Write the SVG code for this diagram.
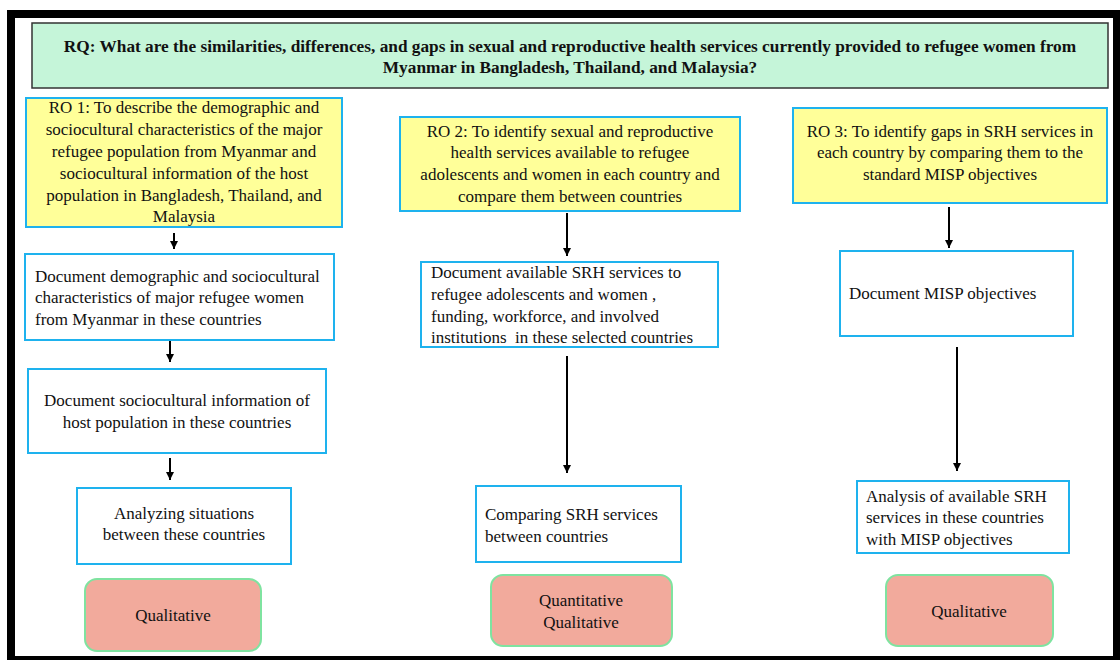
<svg xmlns="http://www.w3.org/2000/svg" width="1120" height="660" viewBox="0 0 1120 660">
  <defs>
    <marker id="arrowhead" viewBox="0 0 10 10" refX="10" refY="5" markerWidth="4" markerHeight="4" markerUnits="strokeWidth" orient="auto">
      <path d="M0,0 L10,5 L0,10 Z" fill="#000"/>
    </marker>
    <style>
      text { font-family: "Liberation Serif", "Times New Roman", serif; font-size: 17px; fill: #111; }
      .rq { font-weight: bold; font-size: 17.3px; text-anchor: middle; }
      .mid { text-anchor: middle; }
      .ro { fill: #ffff99; stroke: #1eb2ee; stroke-width: 2; }
      .step { fill: #ffffff; stroke: #1eb2ee; stroke-width: 2; }
      .method { fill: #f2aa9c; stroke: #7fe3a0; stroke-width: 2; }
      .conn line { stroke: #000; stroke-width: 2; marker-end: url(#arrowhead); }
    </style>
  </defs>

  <rect width="1120" height="660" fill="#ffffff"/>

  <!-- outer frame -->
  <path d="M7,10 H1121 V661 H7 Z M15,18 V656 H1113 V18 Z" fill="#000" fill-rule="evenodd"/>

  <!-- research question -->
  <g id="rq">
    <rect x="32" y="23" width="1076" height="65" fill="#c5f5d9" stroke="#333" stroke-width="1.5"/>
    <text class="rq" x="570" y="52">RQ: What are the similarities, differences, and gaps in sexual and reproductive health services currently provided to refugee women from</text>
    <text class="rq" x="570" y="73">Myanmar in Bangladesh, Thailand, and Malaysia?</text>
  </g>

  <!-- column 1 -->
  <g id="ro1">
    <rect class="ro" x="26" y="98" width="316" height="129"/>
    <text class="mid" x="184" y="113">RO 1: To describe the demographic and</text>
    <text class="mid" x="184" y="135">sociocultural characteristics of the major</text>
    <text class="mid" x="184" y="157">refugee population from Myanmar and</text>
    <text class="mid" x="184" y="179">sociocultural information of the host</text>
    <text class="mid" x="184" y="201">population in Bangladesh, Thailand, and</text>
    <text class="mid" x="184" y="222">Malaysia</text>
  </g>
  <g id="step1a">
    <rect class="step" x="25" y="254" width="309" height="86"/>
    <text x="35" y="282">Document demographic and sociocultural</text>
    <text x="35" y="303">characteristics of major refugee women</text>
    <text x="35" y="325">from Myanmar in these countries</text>
  </g>
  <g id="step1b">
    <rect class="step" x="28" y="369" width="298" height="84"/>
    <text class="mid" x="177" y="406">Document sociocultural information of</text>
    <text class="mid" x="177" y="428">host population in these countries</text>
  </g>
  <g id="step1c">
    <rect class="step" x="77" y="488" width="214" height="76"/>
    <text class="mid" x="184" y="519">Analyzing situations</text>
    <text class="mid" x="184" y="540">between these countries</text>
  </g>
  <g id="method1">
    <rect class="method" x="85" y="579" width="176" height="72" rx="12"/>
    <text class="mid" x="173" y="621">Qualitative</text>
  </g>

  <!-- column 2 -->
  <g id="ro2">
    <rect class="ro" x="400" y="117" width="340" height="94"/>
    <text class="mid" x="570" y="137">RO 2: To identify sexual and reproductive</text>
    <text class="mid" x="570" y="158">health services available to refugee</text>
    <text class="mid" x="570" y="180">adolescents and women in each country and</text>
    <text class="mid" x="570" y="202">compare them between countries</text>
  </g>
  <g id="step2a">
    <rect class="step" x="421" y="262" width="297" height="85"/>
    <text x="431" y="278">Document available SRH services to</text>
    <text x="431" y="300">refugee adolescents and women ,</text>
    <text x="431" y="322">funding, workforce, and involved</text>
    <text x="431" y="343" xml:space="preserve">institutions  in these selected countries</text>
  </g>
  <g id="step2b">
    <rect class="step" x="476" y="486" width="205" height="76"/>
    <text x="485" y="520">Comparing SRH services</text>
    <text x="485" y="542">between countries</text>
  </g>
  <g id="method2">
    <rect class="method" x="491" y="575" width="181" height="71" rx="12"/>
    <text class="mid" x="581" y="606">Quantitative</text>
    <text class="mid" x="581" y="628">Qualitative</text>
  </g>

  <!-- column 3 -->
  <g id="ro3">
    <rect class="ro" x="793" y="108" width="314" height="95"/>
    <text class="mid" x="950" y="137">RO 3: To identify gaps in SRH services in</text>
    <text class="mid" x="950" y="158">each country by comparing them to the</text>
    <text class="mid" x="950" y="180">standard MISP objectives</text>
  </g>
  <g id="step3a">
    <rect class="step" x="840" y="251" width="233" height="85"/>
    <text x="849" y="299">Document MISP objectives</text>
  </g>
  <g id="step3b">
    <rect class="step" x="857" y="481" width="212" height="72"/>
    <text x="866" y="502">Analysis of available SRH</text>
    <text x="866" y="523">services in these countries</text>
    <text x="866" y="545">with MISP objectives</text>
  </g>
  <g id="method3">
    <rect class="method" x="886" y="575" width="167" height="71" rx="12"/>
    <text class="mid" x="969" y="617">Qualitative</text>
  </g>

  <!-- connectors -->
  <g id="connectors" class="conn">
    <line x1="174" y1="233" x2="174" y2="249"/>
    <line x1="170" y1="341" x2="170" y2="362"/>
    <line x1="170" y1="458" x2="170" y2="480"/>
    <line x1="567" y1="213" x2="567" y2="256"/>
    <line x1="567" y1="356" x2="567" y2="473"/>
    <line x1="949" y1="207" x2="949" y2="248"/>
    <line x1="957" y1="347" x2="957" y2="471"/>
  </g>
</svg>
